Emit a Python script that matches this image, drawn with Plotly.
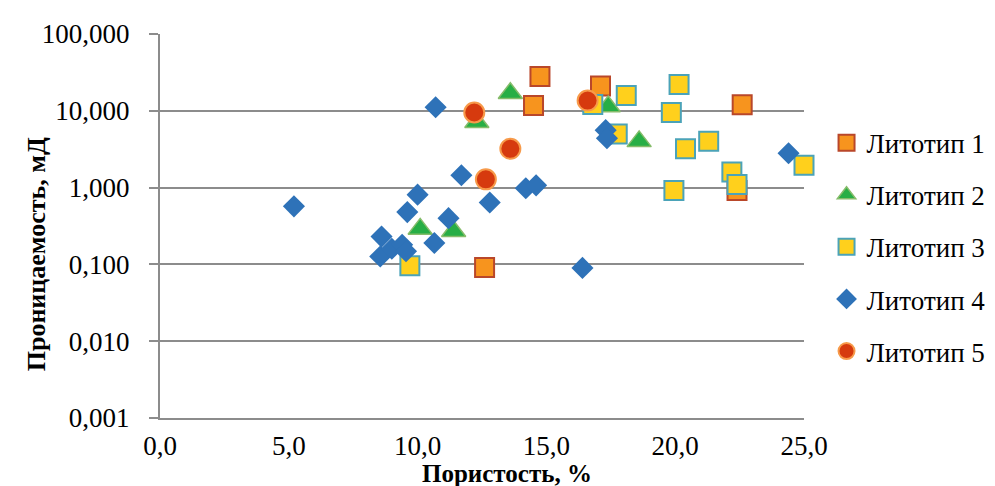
import plotly.graph_objects as go

# Литотип 1
x1 = [14.75, 14.5, 17.1, 12.6, 22.6, 22.4]
y1 = [28.0, 11.7, 21.0, 0.091, 12.0, 0.92]
# Литотип 2
x2 = [13.6, 12.3, 17.4, 18.6, 10.1, 11.4]
y2 = [16.9, 7.1, 11.4, 4.0, 0.29, 0.27]
# Литотип 3
x3 = [9.7, 16.8, 18.1, 17.75, 20.15, 19.85, 20.4, 21.3, 19.95, 22.2, 22.4, 25.0]
y3 = [0.096, 12.1, 15.8, 5.0, 22.0, 9.5, 3.2, 4.0, 0.92, 1.6, 1.1, 1.95]
# Литотип 4
x4 = [5.2, 10.7, 10.0, 9.6, 11.7, 12.8, 11.2, 10.65, 8.6, 8.55, 9.0, 9.4, 9.55,
      14.2, 14.6, 17.3, 17.35, 24.4, 16.4]
y4 = [0.57, 11.1, 0.81, 0.48, 1.45, 0.64, 0.40, 0.19, 0.23, 0.127, 0.16, 0.18, 0.148,
      0.98, 1.07, 5.6, 4.4, 2.8, 0.09]
# Литотип 5
x5 = [12.2, 13.6, 12.65, 16.6]
y5 = [9.5, 3.2, 1.28, 13.6]

names = ["Литотип 1", "Литотип 2", "Литотип 3", "Литотип 4", "Литотип 5"]
x_title = "Пористость, %"
y_title = "Проницаемость, мД"

x_tickvals = [0, 5, 10, 15, 20, 25]
x_ticktext = ["0,0", "5,0", "10,0", "15,0", "20,0", "25,0"]
y_tickvals = [0.001, 0.01, 0.1, 1, 10, 100]
y_ticktext = ["0,001", "0,010", "0,100", "1,000", "10,000", "100,000"]

styles = [
    dict(symbol="square", size=19, color="#F7941E", line=dict(color="#B9472A", width=2)),
    dict(symbol="triangle-up", size=21, color="#27AE45", line=dict(color="#86BC6A", width=1.5)),
    dict(symbol="square", size=19, color="#FFD01C", line=dict(color="#4BA3B8", width=2)),
    dict(symbol="diamond", size=17, color="#2E72B8", line=dict(color="#2E72B8", width=0)),
    dict(symbol="circle", size=20, color="#D63A0E", line=dict(color="#F79A4A", width=2)),
]

fig = go.Figure()
for i, (xs, ys) in enumerate([(x1, y1), (x2, y2), (x3, y3), (x4, y4), (x5, y5)]):
    fig.add_trace(go.Scatter(x=xs, y=ys, mode="markers", name=names[i],
                             legendgroup=names[i], marker=styles[i], cliponaxis=False))

ff = "Liberation Serif"
grid = "#8C8C8C"
fig.update_layout(
    template="none",
    width=995, height=486,
    margin=dict(l=152, r=187, t=26, b=76),
    paper_bgcolor="white", plot_bgcolor="white",
    font=dict(family=ff, size=27, color="black"),
    showlegend=True,
    legend=dict(x=1.035, y=0.445, xanchor="left", yanchor="middle",
                font=dict(size=27, family=ff, color="black"), tracegroupgap=14,
                itemwidth=30, bgcolor="rgba(0,0,0,0)", borderwidth=0),
    xaxis=dict(range=[0, 25], tickvals=x_tickvals, ticktext=x_ticktext,
               showgrid=False, zeroline=False, showline=True, linecolor=grid,
               linewidth=2, ticks="", ticklabelstandoff=3,
               tickfont=dict(size=27, family=ff, color="black")),
    yaxis=dict(type="log", range=[-3, 2], tickvals=y_tickvals, ticktext=y_ticktext,
               showgrid=True, gridcolor=grid, gridwidth=2, zeroline=False,
               showline=True, linecolor=grid, linewidth=2,
               ticks="outside", ticklen=9, tickcolor=grid, tickwidth=2,
               ticklabelstandoff=14,
               tickfont=dict(size=27, family=ff, color="black")),
)

fig.add_annotation(text="<b>" + x_title + "</b>", xref="paper", yref="paper",
                   x=(505 - 152) / 656, y=(410 - 465) / 384, xanchor="center", yanchor="middle",
                   showarrow=False, font=dict(family=ff, size=25, color="black"))
fig.add_annotation(text="<b>" + y_title + "</b>", xref="paper", yref="paper",
                   x=(26 - 152) / 656, y=(410 - 246) / 384, xanchor="center", yanchor="middle",
                   textangle=-90, showarrow=False, font=dict(family=ff, size=26, color="black"))

fig.write_html("out.html")
